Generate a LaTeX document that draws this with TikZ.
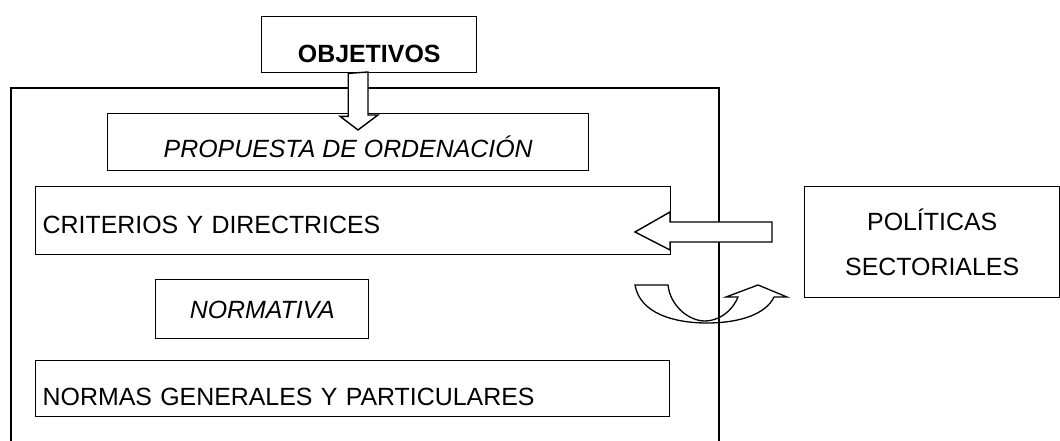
\documentclass[tikz,border=0pt]{standalone}
\usepackage{fontspec}
\setmainfont{Liberation Sans}
\usetikzlibrary{positioning}

\begin{document}
\begin{tikzpicture}
[x=1bp,y=-1bp,
  boxdecorate/.style={draw,line width=1.4bp,anchor=north west,inner sep=0pt,
    text depth=0pt,font=\fontsize{25}{30}\selectfont},
  leftdecorate/.style={boxdecorate,inner xsep=7bp,align=left},
  arrowdecorate/.style={draw,line width=1.4bp,fill=white,line join=miter},
  curvedecorate/.style={draw,line width=1.3bp}]
\useasboundingbox (0,0) rectangle (1060,441);
%% outer frame
\draw[line width=1.4bp] (11,441) -- (11,88) -- (719,88) -- (719,441);
%% boxes
\node (objetivos) at (261,16) [boxdecorate,minimum width=215bp,minimum height=56bp,
  text height=36bp,font=\fontsize{25}{30}\selectfont\bfseries] {OBJETIVOS};
\node (propuesta) at (107,113) [boxdecorate,minimum width=481bp,minimum height=57bp,
  text height=31bp,font=\fontsize{25}{30}\selectfont\itshape] {PROPUESTA DE ORDENACIÓN};
\node (criterios) at (35,186) [leftdecorate,text width=621bp,minimum height=68bp,
  text height=26bp] {CRITERIOS Y DIRECTRICES};
\node (normativa) at (155,279) [boxdecorate,minimum width=213bp,minimum height=59bp,
  text height=19bp,font=\fontsize{25}{30}\selectfont\itshape] {NORMATIVA};
\node (normas) at (35,360) [leftdecorate,text width=620bp,minimum height=56bp,
  text height=34bp] {NORMAS GENERALES Y PARTICULARES};
\node (politicas) at (804,186) [draw,line width=1.4bp,anchor=north west,
  minimum width=255bp,minimum height=111bp,align=center,
  font=\fontsize{25}{45}\selectfont] {POLÍTICAS\\SECTORIALES};
%% block arrows
\draw[arrowdecorate] ([xshift=-21bp]objetivos.south) -- ++(0,43) -- ++(-8,0)
  -- (358,130) -- (378,115) -- (368,115) -- (368,72) -- cycle;
\draw[arrowdecorate] (772,222) -- (670,222) -- (670,212) -- (635,232)
  -- (670,250) -- (670,242) -- (772,242) -- cycle;
%% curved arrow
\draw[curvedecorate] (635,285) .. controls (640,314) and (675,323) .. (707,323)
  .. controls (740,323) and (766,314) .. (774,297) -- (787,297) -- (758,285)
  -- (726,297) -- (738,297) .. controls (732,312) and (718,321) .. (705,321)
  .. controls (688,321) and (670,305) .. (668,285) -- cycle;
\end{tikzpicture}
\end{document}
